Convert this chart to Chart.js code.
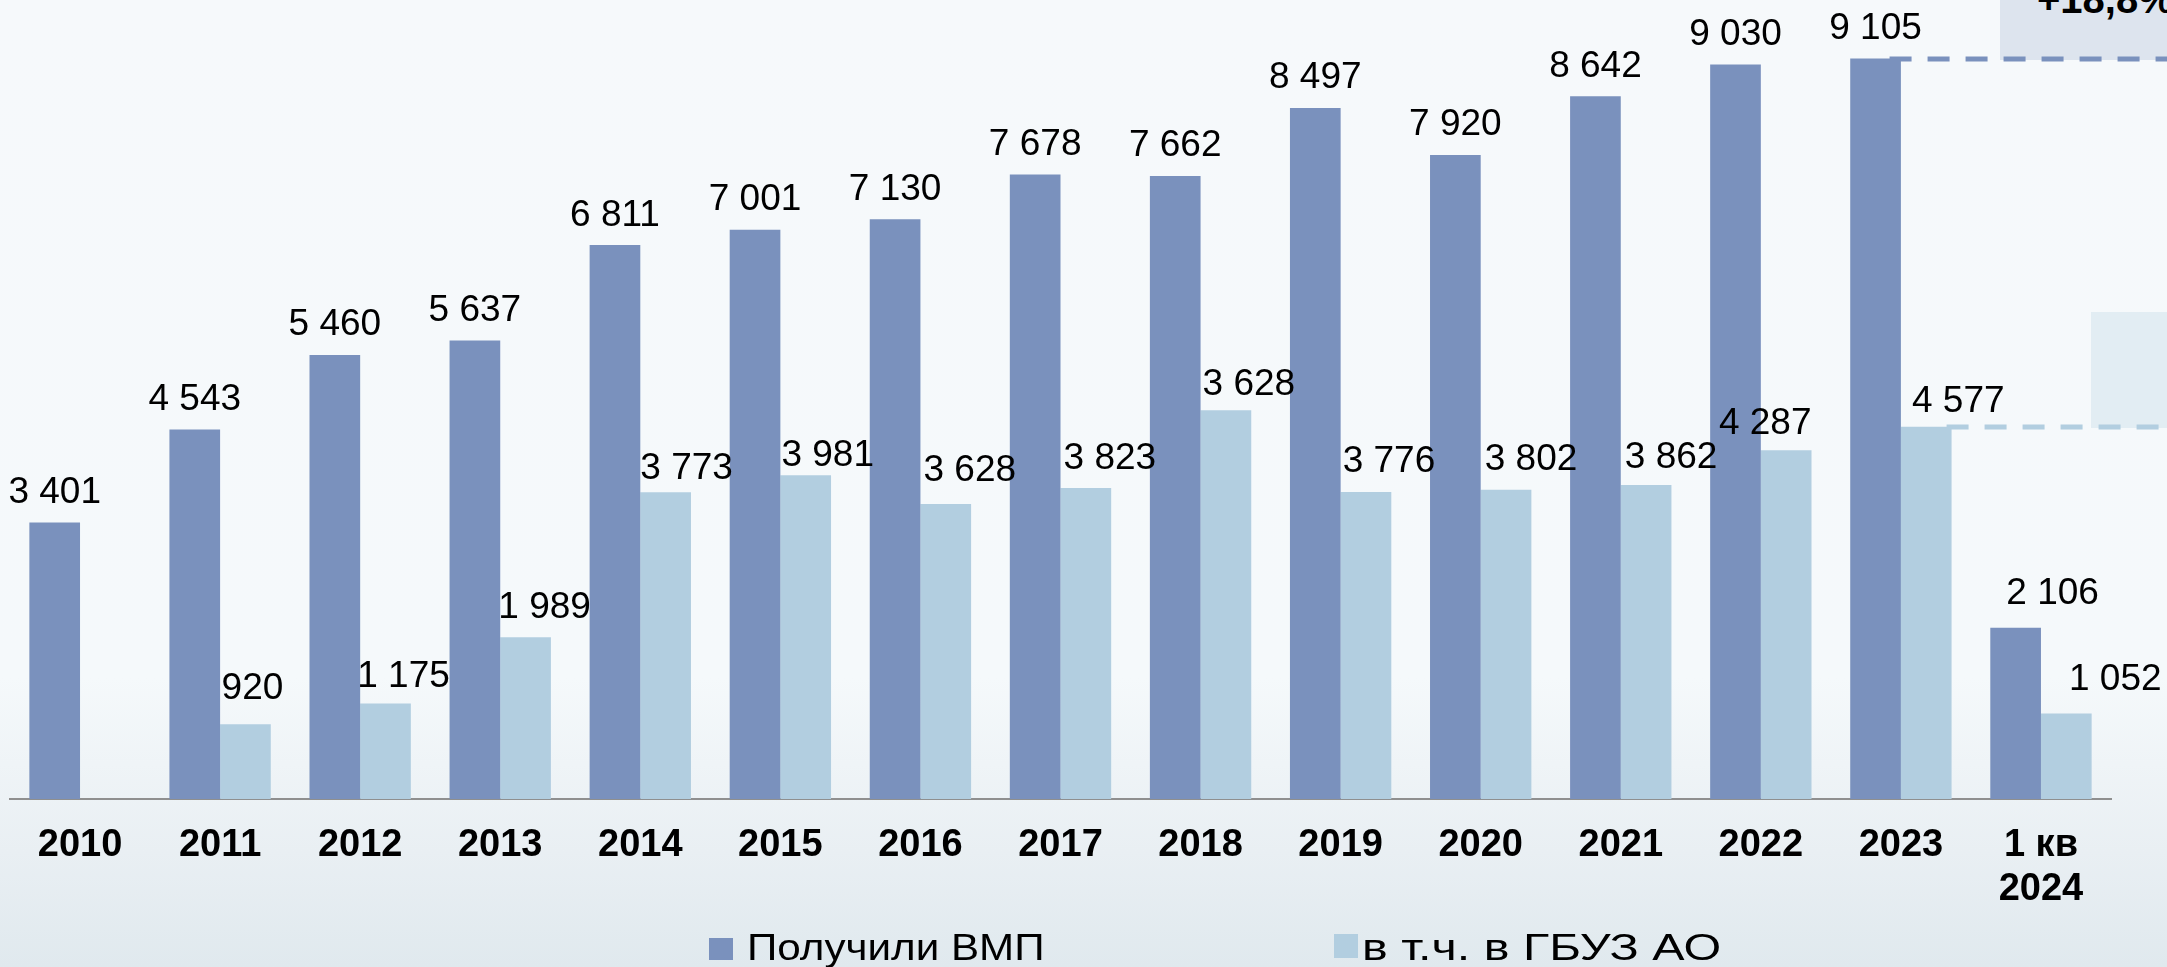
<!DOCTYPE html>
<html lang="ru">
<head>
<meta charset="utf-8">
<title>ВМП</title>
<script src="https://cdn.jsdelivr.net/npm/chart.js@4.4.1/dist/chart.umd.min.js"></script>
<style>
    html, body {
        margin: 0;
        padding: 0;
        overflow: hidden;
    }
    #wrap {
        position: relative;
        width: 2167px;
        height: 967px;
        background: linear-gradient(180deg, #f6f9fb 0%, #f5f9fb 70%, #e9eff3 88%, #e0e9ee 100%);
        font-family: "Liberation Sans", Arial, sans-serif;
    }
    #grafico {
        position: absolute;
        left: 0;
        top: 0;
        z-index: 2;
    }
    .box {
        position: absolute;
        z-index: 1;
    }
    #boxTop {
        left: 2000px;
        top: -60px;
        width: 200px;
        height: 120px;
        background: #dde4ee;
    }
    #boxTop span {
        position: absolute;
        left: 37px;
        top: 39px;
        font-weight: bold;
        font-size: 40px;
        line-height: 40px;
        color: #000;
        white-space: nowrap;
    }
    #boxMid {
        left: 2091px;
        top: 312px;
        width: 100px;
        height: 116px;
        background: #e2edf3;
    }
    .legenda {
        position: absolute;
        z-index: 3;
        font-size: 37px;
        line-height: 37px;
        color: #000;
        white-space: nowrap;
    }
    .legenda i {
        position: absolute;
        width: 24px;
        height: 22px;
    }
    .legenda span {
        display: inline-block;
        transform-origin: left center;
    }
</style>
</head>
<body>
<div id="wrap">
    <div class="box" id="boxTop"><span id="textoCrescimento"></span></div>
    <div class="box" id="boxMid"></div>
    <canvas id="grafico" width="2167" height="967"></canvas>
    <div class="legenda" id="legenda1" style="left:709px; top:929px;"><i style="left:0; top:9px;"></i><span style="margin-left:38px; transform:scaleX(1.14);"></span></div>
    <div class="legenda" id="legenda2" style="left:1334px; top:929px;"><i style="left:0; top:5px; height:24px;"></i><span style="margin-left:28px; transform:scaleX(1.31);"></span></div>
</div>
<script>
    // categorias
    const anos = ['2010', '2011', '2012', '2013', '2014', '2015', '2016', '2017', '2018',
        '2019', '2020', '2021', '2022', '2023', ['1 кв', '2024']];

    // Получили ВМП
    const valoresVmp = [3401, 4543, 5460, 5637, 6811, 7001, 7130, 7678, 7662, 8497, 7920, 8642, 9030, 9105, 2106];
    // в т.ч. в ГБУЗ АО (2018: bar drawn taller than its printed label)
    const valoresGbuz = [null, 920, 1175, 1989, 3773, 3981, 3628, 3823, 4780, 3776, 3802, 3862, 4287, 4577, 1052];
    const rotulosGbuz = ['', '920', '1 175', '1 989', '3 773', '3 981', '3 628', '3 823', '3 628',
        '3 776', '3 802', '3 862', '4 287', '4 577', '1 052'];

    const nomesSeries = ['Получили ВМП', 'в т.ч. в ГБУЗ АО'];
    const textoCrescimento = '+18,8%';

    const corEscura = '#7a91bd';
    const corClara = '#b2cee0';

    // label nudges (px), relative to bar centre
    const desvioXVmp = [0, 0, 0, 0, 0, 0, 0, 0, 0, 0, 0, 0, 0, 0, 37];
    const desvioYVmp = [0, 0, 0, 0, 0, 0, 0, 0, 0, 0, 0, 0, 0, 0, -4];
    const desvioXGbuz = [0, 7, 18, 19, 21, 22, 24, 24, 23, 23, 25, 25, -21, 32, 49];
    const desvioYGbuz = [0, -6, 3, 0, 6, 10, -3, 0, 4, 0, 0, 3, 3, 5, -4];

    function formatar(v) {
        return String(v).replace(/\B(?=(\d{3})+(?!\d))/g, ' ');
    }

    document.getElementById('textoCrescimento').textContent = textoCrescimento;
    document.querySelector('#legenda1 i').style.background = corEscura;
    document.querySelector('#legenda1 span').textContent = nomesSeries[0];
    document.querySelector('#legenda2 i').style.background = corClara;
    document.querySelector('#legenda2 span').textContent = nomesSeries[1];

    const fonte = '"Liberation Sans", Arial, sans-serif';

    const rotulosValores = {
        id: 'rotulosValores',
        afterDatasetsDraw(chart) {
            const ctx = chart.ctx;
            ctx.save();
            ctx.font = '37px ' + fonte;
            ctx.fillStyle = '#000';
            ctx.textAlign = 'center';
            ctx.textBaseline = 'alphabetic';
            chart.getDatasetMeta(0).data.forEach((bar, i) => {
                if (valoresVmp[i] == null) return;
                ctx.fillText(formatar(valoresVmp[i]), bar.x + desvioXVmp[i], bar.y - 19.5 + desvioYVmp[i]);
            });
            chart.getDatasetMeta(1).data.forEach((bar, i) => {
                if (valoresGbuz[i] == null) return;
                ctx.fillText(rotulosGbuz[i], bar.x + desvioXGbuz[i], bar.y - 19.5 + desvioYGbuz[i]);
            });
            ctx.restore();
        }
    };

    // dashed guide lines from the 2023 bars to the right edge
    const linhasGuia = {
        id: 'linhasGuia',
        afterDatasetsDraw(chart) {
            const ctx = chart.ctx;
            const y = chart.scales.y;
            const ultimo = 13;
            const barEscura = chart.getDatasetMeta(0).data[ultimo];
            const barClara = chart.getDatasetMeta(1).data[ultimo];
            ctx.save();
            ctx.lineWidth = 5;
            ctx.setLineDash([22, 16]);

            ctx.strokeStyle = corEscura;
            ctx.beginPath();
            const y1 = Math.round(y.getPixelForValue(valoresVmp[ultimo]));
            ctx.moveTo(barEscura.x + 14, y1);
            ctx.lineTo(chart.width, y1);
            ctx.stroke();

            ctx.strokeStyle = corClara;
            ctx.beginPath();
            const y2 = Math.round(y.getPixelForValue(valoresGbuz[ultimo]));
            ctx.moveTo(barClara.x + barClara.width / 2 - 5, y2);
            ctx.lineTo(chart.width, y2);
            ctx.stroke();
            ctx.restore();
        }
    };

    const ctx = document.getElementById('grafico').getContext('2d');
    const myChart = new Chart(ctx, {
        type: 'bar',
        data: {
            labels: anos,
            datasets: [{
                label: nomesSeries[0],
                data: valoresVmp,
                backgroundColor: corEscura,
                borderWidth: 0,
                categoryPercentage: 0.7236,
                barPercentage: 1
            }, {
                label: nomesSeries[1],
                data: valoresGbuz,
                backgroundColor: corClara,
                borderWidth: 0,
                categoryPercentage: 0.7236,
                barPercentage: 1
            }]
        },
        options: {
            responsive: false,
            animation: false,
            layout: {
                padding: { left: 10, right: 56, top: 2, bottom: 0 }
            },
            scales: {
                y: {
                    display: false,
                    min: 0,
                    max: 9800
                },
                x: {
                    grid: { display: false, drawTicks: false },
                    border: { display: true, color: '#8f8f8f', width: 2 },
                    afterFit(axis) { axis.height = 168; },
                    ticks: {
                        color: '#000',
                        padding: 24,
                        maxRotation: 0,
                        autoSkip: false,
                        font: { family: fonte, size: 38, weight: 'bold', lineHeight: 1.16 }
                    }
                }
            },
            plugins: {
                legend: { display: false },
                tooltip: { enabled: false }
            }
        },
        plugins: [rotulosValores, linhasGuia]
    });
</script>
</body>
</html>
